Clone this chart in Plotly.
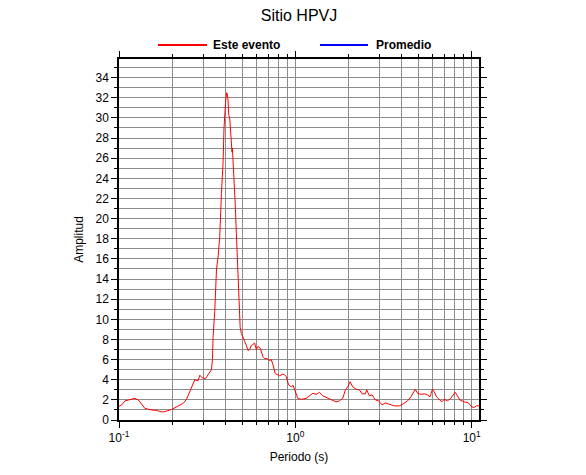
import plotly.graph_objects as go

# Data
periodo = [0.1, 0.1036, 0.1081, 0.1154, 0.1232, 0.1286, 0.1344, 0.1403, 0.1531, 0.1634,
           0.1744, 0.182, 0.1987, 0.2165, 0.2311, 0.2415, 0.2521, 0.2632, 0.2692, 0.2809,
           0.2872, 0.296, 0.3094, 0.32, 0.3272, 0.3345, 0.3388, 0.3415, 0.3491, 0.357,
           0.3646, 0.3727, 0.381, 0.389, 0.3941, 0.3993, 0.4029, 0.4082, 0.4119, 0.4151,
           0.4189, 0.4244, 0.43, 0.4339, 0.4373, 0.4396, 0.4431, 0.4488, 0.4559, 0.463,
           0.4691, 0.474, 0.4803, 0.4865, 0.4943, 0.5047, 0.5161, 0.5277, 0.5387, 0.5508,
           0.5631, 0.5747, 0.5875, 0.6008, 0.6134, 0.6315, 0.6549, 0.6696, 0.69, 0.7147,
           0.7307, 0.746, 0.7697, 0.814, 0.8499, 0.8689, 0.8883, 0.9153, 0.9481, 0.9705,
           1.0026, 1.033, 1.08, 1.152, 1.204, 1.256, 1.313, 1.371, 1.431, 1.527,
           1.63, 1.703, 1.778, 1.857, 1.923, 1.981, 2.044, 2.114, 2.21, 2.307,
           2.39, 2.495, 2.538, 2.629, 2.723, 2.842, 2.967, 3.102, 3.237, 3.411,
           3.64, 3.886, 4.093, 4.328, 4.524, 4.785, 4.931, 5.154, 5.381, 5.617,
           5.794, 5.994, 6.128, 6.315, 6.541, 6.775, 6.981, 7.288, 7.618, 8.057,
           8.302, 8.566, 9.058, 9.579, 10.01, 10.32, 10.63, 11.0]
amplitud = [1.35, 1.5, 1.9, 2.05, 2.15, 2.0, 1.6, 1.15, 1.0, 0.95,
            0.8, 0.83, 1.05, 1.4, 1.65, 2.05, 2.8, 3.5, 4.0, 3.9,
            4.45, 4.2, 4.1, 4.5, 4.7, 5.0, 6.0, 8.2, 10.8, 14.9,
            16.2, 18.2, 22.5, 25.5, 29.0, 31.5, 31.8, 32.5, 32.3, 31.8,
            30.3, 30.0, 28.5, 26.9, 26.6, 27.0, 26.0, 23.9, 21.5, 18.5,
            15.5, 13.0, 10.5, 9.2, 8.6, 8.1, 7.8, 7.4, 6.9, 7.0,
            7.4, 7.5, 7.65, 7.0, 7.3, 7.15, 6.3, 6.1, 6.1, 5.9,
            6.0, 5.5, 4.6, 4.4, 4.55, 4.5, 4.3, 3.5, 3.3, 3.45,
            2.65, 2.15, 2.05, 2.15, 2.4, 2.65, 2.55, 2.75, 2.4, 2.15,
            1.9, 1.8, 1.9, 2.15, 3.0, 3.3, 3.8, 3.3, 3.05, 3.0,
            2.6, 2.6, 3.0, 2.4, 2.5, 2.0, 1.9, 1.5, 1.7, 1.6,
            1.4, 1.4, 1.6, 1.9, 2.3, 3.05, 2.65, 2.55, 2.6, 2.5,
            2.3, 3.05, 2.8, 2.3, 2.0, 1.8, 2.05, 1.9, 2.15, 2.75,
            2.4, 2.0, 1.8, 1.7, 1.3, 1.25, 1.4, 1.4]

promedio_periodo = []
promedio_amplitud = []

x_major = [0.1, 1, 10]
x_major_text = ["10<sup>-1</sup>", "10<sup>0</sup>", "10<sup>1</sup>"]
x_minor = [m * d for d in (0.1, 1, 10) for m in range(2, 10) if m * d <= 11]
y_ticks = list(range(0, 35, 2))

titulo = "Sitio HPVJ"
serie1 = "Este evento"
serie2 = "Promedio"

FONT = "Liberation Sans, Arial, Helvetica, sans-serif"
GRID = "#8c8c8c"

fig = go.Figure()
fig.add_trace(go.Scatter(x=periodo, y=amplitud, mode="lines", name=serie1,
                         line=dict(color="#ff0000", width=1), showlegend=False))
fig.add_trace(go.Scatter(x=promedio_periodo, y=promedio_amplitud, mode="lines", name=serie2,
                         line=dict(color="#0000ff", width=1), showlegend=False))

# Legend drawn above the plot
leg_y = 1.0388
for (x0, x1, xt, color, label) in [(0.1083, 0.2444, 0.2560, "#ff0000", serie1),
                                    (0.5583, 0.6917, 0.7080, "#0000ff", serie2)]:
    fig.add_shape(type="line", xref="paper", yref="paper", x0=x0, x1=x1, y0=leg_y, y1=leg_y,
                  line=dict(color=color, width=2))
    fig.add_annotation(xref="paper", yref="paper", x=xt, y=leg_y, text="<b>%s</b>" % label,
                       showarrow=False, xanchor="left", yanchor="middle",
                       font=dict(family=FONT, size=12, color="black"))

fig.update_layout(
    width=586, height=475,
    margin=dict(l=111, r=115, t=51, b=63),
    paper_bgcolor="white", plot_bgcolor="white",
    font=dict(family=FONT, size=12, color="black"),
    title=dict(text=titulo, x=0.5, xref="paper", y=1 - 7 / 475, yref="container",
               xanchor="center", yanchor="middle", font=dict(family=FONT, size=16),
               automargin=False),
    showlegend=False,
)

fig.update_xaxes(
    type="log", range=[-1, 1.0414],
    tickvals=x_major, ticktext=x_major_text,
    ticks="outside", ticklen=6, tickwidth=1, tickcolor="black",
    showgrid=True, gridcolor=GRID, gridwidth=1,
    minor=dict(tickvals=x_minor, ticks="outside", ticklen=3, tickcolor="black",
               showgrid=True, gridcolor=GRID, gridwidth=1),
    showline=True, linecolor="black", linewidth=1.5, mirror="ticks",
    zeroline=False, automargin=False,
    title=dict(text="Periodo (s)", standoff=8, font=dict(size=12)),
    tickfont=dict(size=12),
)
fig.update_yaxes(
    range=[0, 35.85],
    tickvals=y_ticks,
    ticks="outside", ticklen=6, tickwidth=1, tickcolor="black",
    showgrid=True, gridcolor=GRID, gridwidth=1,
    minor=dict(dtick=1, tick0=0, ticks="outside", ticklen=3, tickcolor="black",
               showgrid=True, gridcolor=GRID, gridwidth=1),
    showline=True, linecolor="black", linewidth=1.5, mirror="ticks",
    zeroline=False, automargin=False,
    title=dict(text="Amplitud", standoff=9, font=dict(size=12)),
    tickfont=dict(size=12),
)

fig.write_html("out.html")
